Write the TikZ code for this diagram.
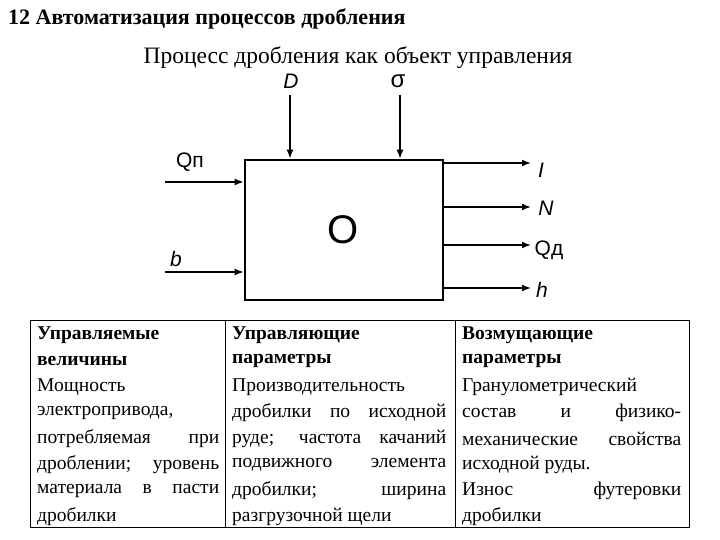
\documentclass[tikz,border=0pt]{standalone}
\usepackage{fontspec}
\usetikzlibrary{arrows.meta}
\setmainfont{Liberation Serif}
\newfontfamily\lsans{Liberation Sans}
\begin{document}
\begin{tikzpicture}[x=1pt,y=-1pt,
 arr/.style={line width=1.6pt,-{Latex[length=9pt,width=7pt]}},
 lab/.style={font=\lsans\fontsize{21}{21}\selectfont,inner sep=0},
 tl/.style={anchor=west,inner sep=0,font=\fontsize{19.5}{19.5}\selectfont}]
\useasboundingbox (0,0) rectangle (720,540);
\node[anchor=west,inner sep=0,font=\bfseries\fontsize{22}{22}\selectfont] (title) at (8,19) {12 Автоматизация процессов дробления};
\node[inner sep=0,font=\fontsize{23.5}{23.5}\selectfont] (sub) at (358,58) {Процесс дробления как объект управления};
\node[draw,line width=2.6pt,minimum width=198pt,minimum height=140pt,inner sep=0] (box) at (344,230) {};
\node[lab,font=\lsans\fontsize{40}{40}\selectfont] (o) at (343,230) {O};
\coordinate (d0) at (290,95); \coordinate (s0) at (400,95);
\coordinate (q0) at (165,182); \coordinate (b0) at (165,272);
\draw[arr] (d0) -- (d0|-box.north);
\draw[arr] (s0) -- (s0|-box.north);
\draw[arr] (q0) -- (q0-|box.west);
\draw[arr] (b0) -- (b0-|box.west);
\node[lab] (ld) at (291,81) {\itshape D};
\node[lab,font=\lsans\fontsize{24}{24}\selectfont] (ls) at (398,81) {σ};
\node[lab] (lq) at (190,162) {Qп};
\node[lab] (lb) at (176,259) {\itshape b};
\foreach \y/\n in {163/i,207/n,245/q,288/h}{
 \coordinate (o\n) at (443,\y); \coordinate (e\n) at (531,\y);
 \draw[arr] (o\n) -- (e\n);}
\node[lab] (li) at (541,170) {\itshape I};
\node[lab] (ln) at (546,208) {\itshape N};
\node[lab] (lqd) at (549,250) {Qд};
\node[lab] (lh) at (542,290) {\itshape h};
% table
\draw[line width=0.8pt] (30,320) rectangle (689,527);
\draw[line width=0.8pt] (225,320) -- (225,527) (455,320) -- (455,527);
\foreach \t [count=\i] in {{\bfseries Управляемые},{\bfseries величины},Мощность,{\makebox[182pt][s]{электропривода,}},{\makebox[182pt][s]{потребляемая при}},{\makebox[182pt][s]{дроблении; уровень}},{\makebox[182pt][s]{материала в пасти}},дробилки}
 \node[tl] (a\i) at (37,{309+26*\i}) {\t};
\foreach \t [count=\i] in {{\bfseries Управляющие},{\bfseries параметры},Производительность,{\makebox[214pt][s]{дробилки по исходной}},{\makebox[214pt][s]{руде; частота качаний}},{\makebox[214pt][s]{подвижного элемента}},{\makebox[214pt][s]{дробилки; ширина}},разгрузочной щели}
 \node[tl] (b\i) at (232,{309+26*\i}) {\t};
\foreach \t [count=\i] in {{\bfseries Возмущающие},{\bfseries параметры},Гранулометрический,{\makebox[219pt][s]{состав и физико-}},{\makebox[219pt][s]{механические свойства}},исходной руды.,{\makebox[219pt][s]{Износ футеровки}},дробилки}
 \node[tl] (c\i) at (462,{309+26*\i}) {\t};
\end{tikzpicture}
\end{document}
